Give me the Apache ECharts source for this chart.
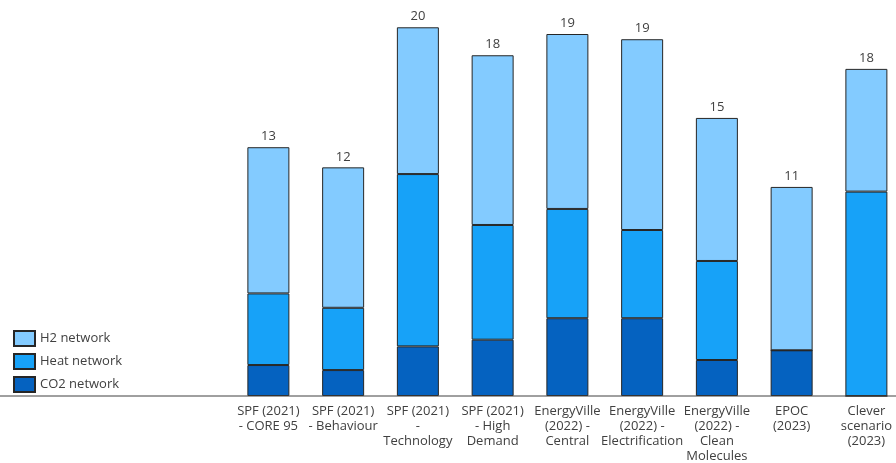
<!DOCTYPE html>
<html>
<head>
<meta charset="utf-8">
<script src="https://cdn.jsdelivr.net/npm/echarts@6/dist/echarts.min.js"></script>
<style>
  html, body { margin: 0; padding: 0; background: #fff; }
  #chart { width: 896px; height: 463px; }
</style>
</head>
<body>
<div id="chart"></div>
<script>
const myChart = echarts.init(document.getElementById('chart'));

// categories (wrapped as in the original)
const categories = [
  'SPF (2021)\n- CORE 95',
  'SPF (2021)\n- Behaviour',
  'SPF (2021)\n-\nTechnology',
  'SPF (2021)\n- High\nDemand',
  'EnergyVille\n(2022) -\nCentral',
  'EnergyVille\n(2022) -\nElectrification',
  'EnergyVille\n(2022) -\nClean\nMolecules',
  'EPOC\n(2023)',
  'Clever\nscenario\n(2023)'
];
// values
const co2Network = [1.66, 1.39, 2.66, 3.02, 4.17, 4.17, 1.93, 2.45, 0];
const heatNetwork = [3.84, 3.34, 9.24, 6.15, 5.86, 4.73, 5.31, 0, 10.96];
const h2Network = [7.84, 7.53, 7.87, 9.10, 9.38, 10.23, 7.67, 8.76, 6.58];

const font = 'Open Sans';
const textColor = '#404040';
const border = { borderColor: '#262626', borderWidth: 1 };

const option = {
  backgroundColor: '#fff',
  animation: false,
  textStyle: { fontFamily: font },
  grid: {
    left: 231, top: 23, bottom: 67, width: 672.75,
    containLabel: false,
    outerBoundsMode: 'none'
  },
  legend: {
    orient: 'vertical',
    left: 13,
    top: 330,
    padding: 0,
    icon: 'rect',
    itemWidth: 21,
    itemHeight: 15,
    itemGap: 6,
    data: ['H2 network', 'Heat network', 'CO2 network'],
    textStyle: { fontFamily: font, fontSize: 13, color: textColor }
  },
  xAxis: {
    type: 'category',
    data: categories,
    axisLine: { show: false },
    axisTick: { show: false },
    axisLabel: {
      interval: 0,
      fontFamily: font,
      fontSize: 13,
      color: textColor,
      lineHeight: 15,
      margin: 8,
      verticalAlign: 'top'
    }
  },
  yAxis: {
    type: 'value',
    min: 0,
    max: 20,
    show: false,
    splitLine: { show: false }
  },
  // baseline across the whole width
  graphic: [{
    type: 'line',
    shape: { x1: 0, y1: 396, x2: 896, y2: 396 },
    style: { stroke: '#404040', lineWidth: 1 },
    z: 100
  }],
  series: [
    {
      name: 'CO2 network', type: 'bar', stack: 'total', barWidth: 42,
      data: co2Network,
      itemStyle: Object.assign({ color: '#0562C0' }, border)
    },
    {
      name: 'Heat network', type: 'bar', stack: 'total', barWidth: 42,
      data: heatNetwork,
      itemStyle: Object.assign({ color: '#17A2F8' }, border)
    },
    {
      name: 'H2 network', type: 'bar', stack: 'total', barWidth: 42,
      data: h2Network,
      itemStyle: Object.assign({ color: '#83CBFF' }, border),
      label: {
        show: true,
        position: 'top',
        distance: 4,
        fontFamily: font,
        fontSize: 13,
        color: textColor,
        formatter: function (p) {
          const i = p.dataIndex;
          return Math.round(co2Network[i] + heatNetwork[i] + h2Network[i]);
        }
      }
    }
  ]
};
myChart.setOption(option);
</script>
</body>
</html>
